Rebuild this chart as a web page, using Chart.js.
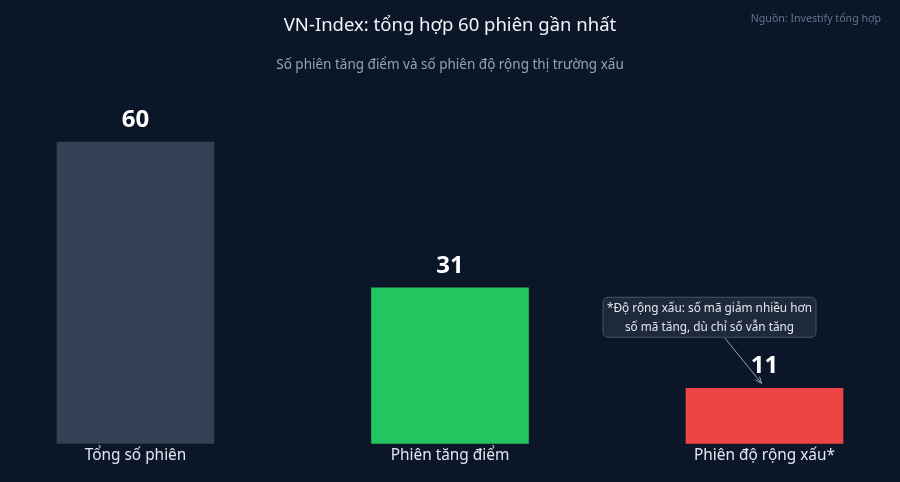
<!DOCTYPE html>
<html>
<head>
<meta charset="utf-8">
<script src="https://cdn.jsdelivr.net/npm/chart.js@4.4.1/dist/chart.umd.min.js"></script>
<style>
  html, body { margin: 0; padding: 0; background: #0b1628; }
  #wrap { width: 900px; height: 482px; position: relative; }
</style>
</head>
<body>
<div id="wrap"><canvas id="bar-chart"></canvas></div>
<script>
const categories = ["Tổng số phiên", "Phiên tăng điểm", "Phiên độ rộng xấu*"];
const sessionCounts = [60, 31, 11];
const barColors = ["#334155", "#22c55e", "#ef4444"];

const titleText = "VN-Index: tổng hợp 60 phiên gần nhất";
const subtitleText = "Số phiên tăng điểm và số phiên độ rộng thị trường xấu";
const sourceText = "Nguồn: Investify tổng hợp";
const noteLines = ["*Độ rộng xấu: số mã giảm nhiều hơn", "số mã tăng, dù chỉ số vẫn tăng"];

const FONT = "'Noto Sans', 'DejaVu Sans', sans-serif";

// titles, value labels and the note box
const decorPlugin = {
  id: "decor",
  afterDatasetsDraw(chart) {
    const ctx = chart.ctx;
    const bars = chart.getDatasetMeta(0).data;
    ctx.save();
    ctx.fillStyle = "#ffffff";
    ctx.font = "bold 24px " + FONT;
    ctx.textAlign = "center";
    ctx.textBaseline = "alphabetic";
    bars.forEach((bar, i) => {
      ctx.fillText(String(sessionCounts[i]), bar.x, bar.y - 15);
    });
    ctx.restore();
  },
  afterDraw(chart) {
    const ctx = chart.ctx;
    const w = chart.width;
    ctx.save();

    ctx.textAlign = "center";
    ctx.textBaseline = "middle";
    ctx.fillStyle = "#f1f5f9";
    ctx.font = "18.5px " + FONT;
    ctx.fillText(titleText, w / 2, 25.5);

    ctx.fillStyle = "#94a3b8";
    ctx.font = "13.5px " + FONT;
    ctx.fillText(subtitleText, w / 2, 65.5);

    ctx.textAlign = "right";
    ctx.fillStyle = "#64748b";
    ctx.font = "10.6px " + FONT;
    ctx.fillText(sourceText, w - 19, 19);

    // note box pointing at the last bar
    const bar = chart.getDatasetMeta(0).data[2];
    const boxW = 213, boxH = 40;
    const bx = bar.x - 55 - boxW / 2;
    const by = bar.y - 91;
    ctx.beginPath();
    ctx.roundRect(bx, by, boxW, boxH, 5);
    ctx.fillStyle = "#1e293b";
    ctx.fill();
    ctx.strokeStyle = "#475569";
    ctx.lineWidth = 1;
    ctx.stroke();

    ctx.textAlign = "center";
    ctx.fillStyle = "#e2e8f0";
    ctx.font = "11.8px " + FONT;
    ctx.fillText(noteLines[0], bx + boxW / 2, by + 11);
    ctx.fillText(noteLines[1], bx + boxW / 2, by + 30);

    // arrow
    const x0 = bx + 122, y0 = by + boxH + 1;
    const x1 = bar.x - 3, y1 = bar.y - 5;
    ctx.strokeStyle = "#94a3b8";
    ctx.lineWidth = 1;
    ctx.beginPath();
    ctx.moveTo(x0, y0);
    ctx.lineTo(x1, y1);
    ctx.stroke();
    const ang = Math.atan2(y1 - y0, x1 - x0);
    const ah = 7;
    ctx.beginPath();
    ctx.moveTo(x1, y1);
    ctx.lineTo(x1 - ah * Math.cos(ang - 0.4), y1 - ah * Math.sin(ang - 0.4));
    ctx.moveTo(x1, y1);
    ctx.lineTo(x1 - ah * Math.cos(ang + 0.4), y1 - ah * Math.sin(ang + 0.4));
    ctx.stroke();

    ctx.restore();
  }
};

const barCtx = document.getElementById("bar-chart").getContext("2d");

new Chart(barCtx, {
  type: "bar",
  data: {
    labels: categories,
    datasets: [
      {
        data: sessionCounts,
        backgroundColor: barColors,
        borderWidth: 0,
        barThickness: 157,
        clip: false
      }
    ]
  },
  options: {
    responsive: true,
    maintainAspectRatio: false,
    animation: false,
    layout: {
      padding: { top: 112, left: 135.5, right: 135.5, bottom: 0 }
    },
    scales: {
      x: {
        offset: false,
        grid: { display: false },
        border: { display: false },
        ticks: {
          color: "#e2e8f0",
          font: { family: FONT, size: 15.4 },
          padding: -5,
          maxRotation: 0,
          autoSkip: false
        },
        afterFit(scale) {
          scale.height = 38.5;
        }
      },
      y: {
        display: false,
        min: 0,
        max: 66
      }
    },
    plugins: {
      legend: { display: false },
      tooltip: { enabled: false }
    }
  },
  plugins: [decorPlugin]
});
</script>
</body>
</html>
